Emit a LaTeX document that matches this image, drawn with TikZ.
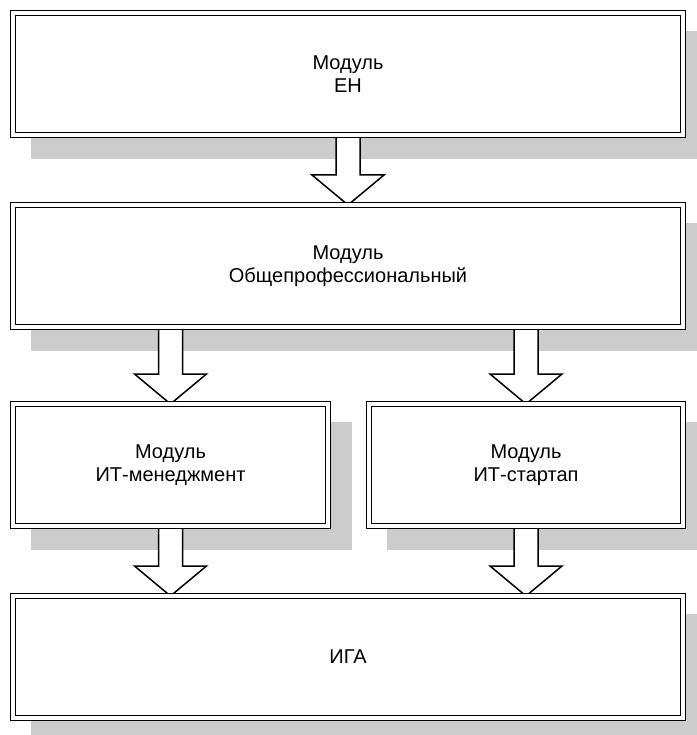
\documentclass[tikz,border=0pt]{standalone}
\usepackage{fontspec}
\setmainfont{Liberation Sans}
\usetikzlibrary{calc,backgrounds}

\tikzset{
  modbox/.style={draw, double=white, line width=1.6pt, double distance=3.4pt,
    fill=white, outer sep=0pt, inner sep=0pt, minimum height=122pt,
    align=center, font=\fontsize{20}{23}\selectfont},
  boxshade/.style={fill=black!20},
  blockarrow/.style={draw, fill=white, line width=1.5pt, line join=miter}
}

% hollow block arrow from #1 down to the tip at #2
\newcommand{\BlockArrow}[2]{%
  \draw[blockarrow] let \p1=(#1), \p2=(#2) in
    (\x1-12pt,\y1) -- (\x1-12pt,\y2+30pt) -- (\x1-36pt,\y2+30pt) -- (\x2,\y2)
    -- (\x1+36pt,\y2+30pt) -- (\x1+12pt,\y2+30pt) -- (\x1+12pt,\y1);}

\begin{document}
\begin{tikzpicture}[x=1pt,y=1pt]
\useasboundingbox (0,0) rectangle (696,-735);
% modules
\node[modbox, minimum width=670pt] (eh) at (348,-74) {Модуль\\ЕН};
\node[modbox, minimum width=670pt] (gpm) at (348,-266) {Модуль\\Общепрофессиональный};
\node[modbox, minimum width=315pt] (itm) at (170.5,-465) {Модуль\\ИТ-менеджмент};
\node[modbox, minimum width=314pt] (its) at (526,-465) {Модуль\\ИТ-стартап};
\node[modbox, minimum width=670pt] (iga) at (348,-657) {ИГА};
\begin{scope}[on background layer]
% shadows
\foreach \m in {eh,gpm,itm,its,iga}
  \fill[boxshade] ([shift={(18pt,-18pt)}]\m.north west)
    rectangle ([shift={(24pt,-24pt)}]\m.south east);
% arrows
\BlockArrow{eh.south}{gpm.north}
\BlockArrow{gpm.south -| itm.north}{itm.north}
\BlockArrow{gpm.south -| its.north}{its.north}
\BlockArrow{itm.south}{itm.south |- iga.north}
\BlockArrow{its.south}{its.south |- iga.north}
\end{scope}
\end{tikzpicture}
\end{document}
